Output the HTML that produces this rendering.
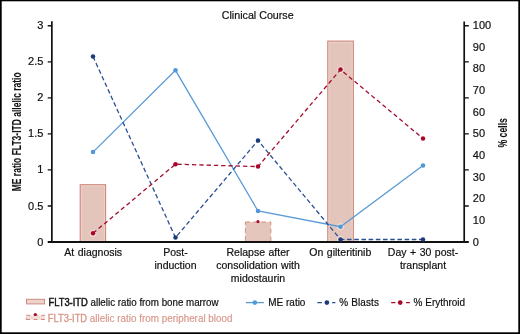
<!DOCTYPE html>
<html><head><meta charset="utf-8"><style>
html,body{margin:0;padding:0;background:#fff;}
body{width:520px;height:334px;overflow:hidden;}
svg{display:block;will-change:transform;}
text{font-family:"Liberation Sans",sans-serif;fill:#111;stroke:#111;stroke-width:0.2px;}
text.t{stroke-width:0.05px;}
text.fb{stroke-width:0.42px;}
text.pb{fill:#d8968a;stroke:#d8968a;stroke-width:0.15px;}
text.pbb{fill:#d8968a;stroke:#d8968a;stroke-width:0.32px;}
</style></head><body>
<svg width="520" height="334" viewBox="0 0 520 334">
<rect x="0" y="0" width="520" height="334" fill="#fff"/>
<!-- frame -->
<rect x="0" y="0" width="520" height="1.3" fill="#000"/>
<rect x="0" y="0" width="1.7" height="334" fill="#000"/>
<rect x="518.3" y="0" width="1.7" height="334" fill="#000"/>
<rect x="0" y="332.3" width="520" height="1.7" fill="#000"/>

<!-- title -->
<text x="257.7" y="18.5" font-size="10.7" text-anchor="middle">Clinical Course</text>

<!-- bars -->
<rect x="80.2" y="184.7" width="25.4" height="57.3" fill="#e4c5bb" stroke="#cf887a" stroke-width="1.1"/><rect x="81.40" y="185.90" width="23.00" height="54.90" fill="none" stroke="#ebd3cc" stroke-width="0.8"/>
<rect x="327.75" y="41.1" width="25.6" height="200.9" fill="#e4c5bb" stroke="#cf887a" stroke-width="1.1"/><rect x="328.95" y="42.30" width="23.20" height="198.50" fill="none" stroke="#ebd3cc" stroke-width="0.8"/>
<rect x="245.4" y="222" width="25.4" height="20" fill="#e5c6bc" stroke="#d18b7d" stroke-width="1" stroke-dasharray="4.5,3.5"/>

<!-- halos -->
<g fill="#fff" opacity="0.45"><circle cx="93" cy="152.1" r="3.4"/><circle cx="175.5" cy="70.3" r="3.4"/><circle cx="258" cy="211" r="3.4"/><circle cx="340.5" cy="226.7" r="3.4"/><circle cx="423" cy="165.4" r="3.4"/><circle cx="93" cy="56.5" r="3.4"/><circle cx="175.5" cy="237.6" r="3.4"/><circle cx="258" cy="140.5" r="3.4"/><circle cx="340.5" cy="239.4" r="3.4"/><circle cx="423" cy="239.4" r="3.4"/><circle cx="93" cy="233.3" r="3.4"/><circle cx="175.5" cy="164.2" r="3.4"/><circle cx="258" cy="166.6" r="3.4"/><circle cx="340.5" cy="69.6" r="3.4"/><circle cx="423" cy="138.5" r="3.4"/></g>
<!-- axes -->
<g stroke="#111" stroke-width="1.6" fill="none">
<line x1="51.85" y1="21.3" x2="51.85" y2="242.9" stroke-width="1.7"/>
<line x1="464.2" y1="21.5" x2="464.2" y2="242.9" stroke-width="1.7"/>
<line x1="47.7" y1="242" x2="468.8" y2="242" stroke-width="1.9"/>
<path stroke-width="1.35" d="M47.7 25.76H51.7M47.7 61.80H51.7M47.7 97.84H51.7M47.7 133.88H51.7M47.7 169.92H51.7M47.7 205.96H51.7"/>
<path stroke-width="1.35" d="M464.2 25.76H468.8M464.2 61.80H468.8M464.2 97.84H468.8M464.2 133.88H468.8M464.2 169.92H468.8M464.2 205.96H468.8"/>
</g>

<!-- left tick labels -->
<g font-size="11" text-anchor="end">
<text x="43.4" y="29.15">3</text>
<text x="43.4" y="65.23">2.5</text>
<text x="43.4" y="101.32">2</text>
<text x="43.4" y="137.40">1.5</text>
<text x="43.4" y="173.48">1</text>
<text x="43.4" y="209.56">0.5</text>
<text x="43.4" y="245.65">0</text>
</g>
<!-- right tick labels -->
<g font-size="11">
<text x="472.8" y="29.15">100</text>
<text x="472.8" y="50.80">90</text>
<text x="472.8" y="72.45">80</text>
<text x="472.8" y="94.10">70</text>
<text x="472.8" y="115.75">60</text>
<text x="472.8" y="137.40">50</text>
<text x="472.8" y="159.05">40</text>
<text x="472.8" y="180.70">30</text>
<text x="472.8" y="202.35">20</text>
<text x="472.8" y="224.00">10</text>
<text x="472.8" y="245.65">0</text>
</g>

<!-- axis titles -->
<text class="t" transform="translate(20.5,131.8) rotate(-90) scale(0.71,1)" font-size="12" font-weight="bold" text-anchor="middle">ME ratio FLT3-ITD allelic ratio</text>
<text class="t" transform="translate(507.3,132.8) rotate(-90) scale(0.725,1)" font-size="12" font-weight="bold" text-anchor="middle">% cells</text>

<!-- x labels -->
<g font-size="10.5" text-anchor="middle" word-spacing="0.6">
<text x="93.2" y="255.6">At diagnosis</text>
<text x="175.5" y="255.6">Post-</text>
<text x="175.5" y="268.6">induction</text>
<text x="258" y="255.6">Relapse after</text>
<text x="258" y="268.6">consolidation with</text>
<text x="258" y="281.6">midostaurin</text>
<text x="340.3" y="255.6">On gilteritinib</text>
<text x="423" y="255.6">Day + 30 post-</text>
<text x="423" y="268.6">transplant</text>
</g>

<!-- ME ratio -->
<polyline points="93,152.1 175.5,70.3 258,211 340.5,226.7 423,165.4" fill="none" stroke="#5b9bd5" stroke-width="1.3"/>
<g fill="#4f97d8"><circle cx="93" cy="152.1" r="2.25"/><circle cx="175.5" cy="70.3" r="2.25"/><circle cx="258" cy="211" r="2.25"/><circle cx="340.5" cy="226.7" r="2.25"/><circle cx="423" cy="165.4" r="2.25"/></g>
<!-- Blasts -->
<polyline points="93,56.5 175.5,237.6 258,140.5 340.5,239.4" fill="none" stroke="#2a4f92" stroke-width="1.3" stroke-dasharray="4.5,2.7"/>
<line x1="340.5" y1="239.5" x2="423" y2="239.5" stroke="#2a4f92" stroke-width="1.3" stroke-dasharray="4.6,2.6" stroke-dashoffset="0.7"/>
<g fill="#1c3a7a"><circle cx="93" cy="56.5" r="2.25"/><circle cx="175.5" cy="237.6" r="2.25"/><circle cx="258" cy="140.5" r="2.25"/><circle cx="340.5" cy="239.4" r="2.25"/><circle cx="423" cy="239.4" r="2.25"/></g>
<!-- Erythroid -->
<polyline points="93,233.3 175.5,164.2 258,166.6 340.5,69.6 423,138.5" fill="none" stroke="#a30c2e" stroke-width="1.3" stroke-dasharray="4.3,3.0"/>
<g fill="#aa062d"><circle cx="93" cy="233.3" r="2.25"/><circle cx="175.5" cy="164.2" r="2.25"/><circle cx="258" cy="166.6" r="2.25"/><circle cx="340.5" cy="69.6" r="2.25"/><circle cx="423" cy="138.5" r="2.25"/></g>
<!-- peripheral blood dot -->
<circle cx="258" cy="221.6" r="1.55" fill="#aa062d"/>

<!-- legend row 1 -->
<rect x="26.5" y="299.3" width="18" height="4.6" fill="#ecd3cb" stroke="#d18b7d" stroke-width="1"/>
<text class="fb" transform="translate(48.4,305.7) scale(0.94,1)" font-size="10">FLT3-ITD</text>
<text transform="translate(90.6,305.8) scale(0.945,1)" font-size="10.35">allelic ratio from bone marrow</text>
<line x1="245.9" y1="302.6" x2="263.9" y2="302.6" stroke="#5b9bd5" stroke-width="1.3"/>
<circle cx="254.8" cy="302.6" r="2.3" fill="#5199d8"/>
<text transform="translate(268.3,305.8) scale(0.95,1)" font-size="10.5">ME ratio</text>
<path d="M317.3 302.6H321.9M332.1 302.6H335.4" stroke="#2a4f92" stroke-width="1.3"/>
<circle cx="326.9" cy="302.6" r="2.35" fill="#1c3a7a"/>
<text transform="translate(339.3,305.8) scale(0.95,1)" font-size="10.5" letter-spacing="0.12">% Blasts</text>
<path d="M391.2 302.6H395.4M406 302.6H409.8" stroke="#aa062d" stroke-width="1.3"/>
<circle cx="400.2" cy="302.6" r="2.35" fill="#aa062d"/>
<text transform="translate(413.6,305.8) scale(0.95,1)" font-size="10.5">% Erythroid</text>
<!-- legend row 2 -->
<rect x="26.3" y="315.3" width="18.5" height="4.2" fill="#f2ded8" stroke="#d18b7d" stroke-width="1" stroke-dasharray="4,3.5"/>
<line x1="26.3" y1="317.6" x2="26.3" y2="319.5" stroke="#d18b7d" stroke-width="1"/>
<circle cx="35.3" cy="314.5" r="1.6" fill="#aa062d"/>
<text class="pbb" transform="translate(47.7,321.8) scale(0.94,1)" font-size="10">FLT3-ITD</text>
<text class="pb" transform="translate(89.8,321.9) scale(0.955,1)" font-size="10.35">allelic ratio from peripheral blood</text>
</svg>
</body></html>
